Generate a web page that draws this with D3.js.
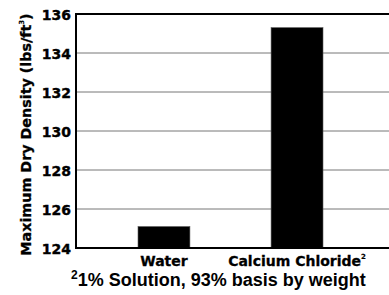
<!DOCTYPE html>
<html><head><meta charset="utf-8">
<script src="https://cdn.jsdelivr.net/npm/d3@7/dist/d3.min.js"></script>
<style>body{margin:0;background:#fff}svg{display:block}</style>
</head><body>
<script>
const categories = ["Water", "Calcium Chloride"];
const catSup = ["", "2"];
const values = [125.1, 135.3];
const yTicks = [124, 126, 128, 130, 132, 134, 136];
const yTitle = "Maximum Dry Density (lbs/ft";
const footnote = "1% Solution, 93% basis by weight";

const W = 389, H = 295;
const m = {left: 76, top: 14, right: 392, bottom: 248};
const heavy = "DejaVu Sans, Verdana, sans-serif";
const svg = d3.select("body").append("svg").attr("width", W).attr("height", H);

const y = d3.scaleLinear().domain([124, 136]).range([m.bottom, m.top]);
const x = d3.scaleBand().domain(categories).range([m.left, 385]).paddingInner(0.61).paddingOuter(0.466);

// gridlines
svg.append("g").selectAll("line").data(yTicks.filter(t => t > 124 && t < 136)).join("line")
  .attr("x1", m.left).attr("x2", m.right).attr("y1", d => y(d)).attr("y2", d => y(d))
  .attr("stroke", "#777").attr("stroke-width", 1);

// bars
svg.append("g").selectAll("rect").data(values).join("rect")
  .attr("x", (d, i) => x(categories[i])).attr("width", x.bandwidth())
  .attr("y", d => y(d)).attr("height", d => y(124) - y(d))
  .attr("fill", "#000").attr("stroke", "#555").attr("stroke-width", 0.6);

// frame
svg.append("line").attr("x1", m.left).attr("x2", m.right).attr("y1", m.top).attr("y2", m.top).attr("stroke", "#000").attr("stroke-width", 2);
svg.append("line").attr("x1", m.left).attr("x2", m.right).attr("y1", m.bottom).attr("y2", m.bottom).attr("stroke", "#000").attr("stroke-width", 2);
svg.append("line").attr("x1", m.left).attr("x2", m.left).attr("y1", m.top - 1).attr("y2", m.bottom + 1).attr("stroke", "#000").attr("stroke-width", 2);

// y axis labels
const yAxis = d3.axisLeft(y).tickValues(yTicks).tickSize(0).tickPadding(5).tickFormat(d3.format("d"));
const ga = svg.append("g").attr("transform", `translate(${m.left},0)`).call(yAxis);
ga.select(".domain").remove();
ga.selectAll("text").attr("font-family", heavy).attr("font-weight", "bold")
  .attr("font-size", 14).attr("fill", "#000").attr("stroke", "#000").attr("stroke-width", 0.4).attr("dy", "0.36em");

// x labels
const xl = svg.append("g").selectAll("text").data(categories).join("text")
  .attr("x", d => x(d) + x.bandwidth() / 2).attr("y", 266)
  .attr("text-anchor", "middle")
  .attr("font-family", heavy).attr("font-weight", "bold")
  .attr("font-size", 14).attr("fill", "#000").attr("stroke", "#000").attr("stroke-width", 0.3);
xl.append("tspan").text(d => d);
xl.append("tspan").text((d, i) => catSup[i]).attr("font-size", 7).attr("dy", -7).attr("stroke-width", 0.2);

// y title
const yt = svg.append("text").attr("transform", `translate(31,${(11 + 258) / 2}) rotate(-90)`)
  .attr("text-anchor", "middle")
  .attr("font-family", heavy).attr("font-weight", "bold")
  .attr("font-size", 14.3).attr("fill", "#000").attr("stroke", "#000").attr("stroke-width", 0.3);
yt.append("tspan").text(yTitle);
yt.append("tspan").text("3").attr("font-size", 7).attr("dy", -7).attr("stroke-width", 0.1);
yt.append("tspan").text(")").attr("dy", 7);

// footnote
const fn = svg.append("text").attr("x", 71).attr("y", 286)
  .attr("font-family", "Liberation Sans, Arial, sans-serif").attr("font-weight", "bold")
  .attr("font-size", 18).attr("fill", "#000");
fn.append("tspan").text("2").attr("font-size", 12).attr("dy", -7);
fn.append("tspan").text(footnote).attr("dy", 7);
</script>
</body></html>
